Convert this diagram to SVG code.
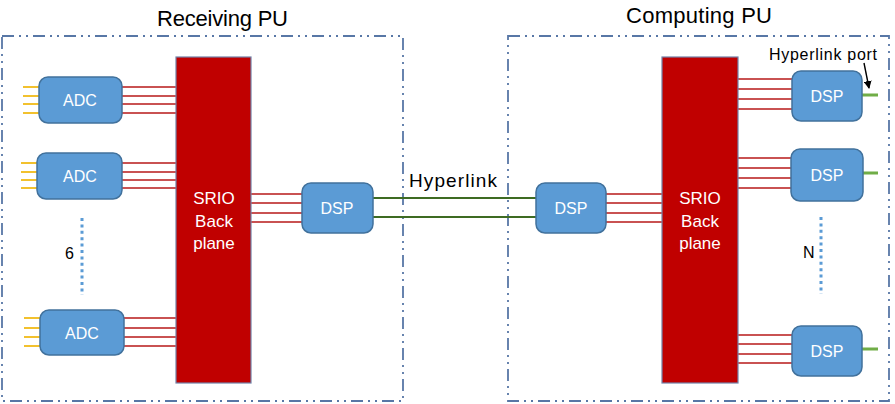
<svg xmlns="http://www.w3.org/2000/svg" width="895" height="404" viewBox="0 0 895 404">
<defs>
<style>
.frame{fill:none;stroke:#5877a6;stroke-width:1.8;stroke-dasharray:12 5 2 5 2 5}
.box{fill:#5b9bd5;stroke:#41719c;stroke-width:1.5}
.bp{fill:#c00000;stroke:#7282a8;stroke-width:1.2}
.red{stroke:#b81a1a;stroke-width:1.6;fill:none}
.yel{stroke:#f2c12e;stroke-width:2;fill:none}
.hl{stroke:#3e6b22;stroke-width:2;fill:none}
.port{stroke:#70ad47;stroke-width:3;fill:none}
.dots{stroke:#5b9bd5;stroke-width:3;stroke-dasharray:3 3.4;fill:none}
.wt{font-family:"Liberation Sans",Arial,sans-serif;font-size:16px;fill:#ffffff;text-anchor:middle}
.st{font-family:"Liberation Sans",Arial,sans-serif;font-size:17px;fill:#ffffff;text-anchor:middle}
.bt{font-family:"Liberation Sans",Arial,sans-serif;fill:#000000}
</style>
<marker id="ah" markerWidth="8" markerHeight="8" refX="7" refY="4" orient="auto" markerUnits="userSpaceOnUse">
<path d="M0,0 L8,4 L0,8 Z" fill="#000"/>
</marker>
</defs>
<rect width="895" height="404" fill="#ffffff"/>

<g id="frames">
<rect class="frame" x="2" y="36" width="401" height="365"/>
<rect class="frame" x="508" y="36" width="381" height="365"/>
<text class="bt" x="157" y="26" font-size="22" textLength="131" lengthAdjust="spacing">Receiving PU</text>
<text class="bt" x="626" y="23" font-size="22" textLength="146" lengthAdjust="spacing">Computing PU</text>
</g>

<g id="connectors">
<path class="yel" d="M23,87H39M23,96H39M23,104H39M23,113H39"/>
<path class="yel" d="M21,163H37M21,172H37M21,180H37M21,188H37"/>
<path class="yel" d="M24,318H40M24,328H40M24,337H40M24,346H40"/>
<path class="red" d="M122,87H176M122,96H176M122,104H176M122,113H176"/>
<path class="red" d="M122,163H176M122,172H176M122,180H176M122,188H176"/>
<path class="red" d="M124,318H176M124,328H176M124,337H176M124,346H176"/>
<path class="red" d="M251,194H302M251,203H302M251,213H302M251,222H302"/>
<path class="hl" d="M373,198H536M373,217H536"/>
<path class="red" d="M606,194H662M606,203H662M606,213H662M606,222H662"/>
<path class="red" d="M738,79H792M738,89H792M738,99H792M738,109H792"/>
<path class="red" d="M738,158H791M738,168H791M738,178H791M738,188H791"/>
<path class="red" d="M738,335H792M738,344H792M738,354H792M738,363H792"/>
<path class="port" d="M862,95H878M863,173H878M862,349H878"/>
<path class="dots" d="M82,218V295"/>
<path class="dots" d="M821,217V294"/>
<path d="M864,63L869,88" stroke="#000" stroke-width="1.4" fill="none" marker-end="url(#ah)"/>
</g>

<g id="adc1"><rect class="box" x="39" y="77" width="83" height="46" rx="9"/><text class="wt" x="80" y="106">ADC</text></g>
<g id="adc2"><rect class="box" x="37" y="153" width="85" height="46" rx="9"/><text class="wt" x="80" y="182">ADC</text></g>
<g id="adc3"><rect class="box" x="40" y="310" width="84" height="45" rx="9"/><text class="wt" x="82" y="339">ADC</text></g>

<g id="backplane-left"><rect class="bp" x="176" y="57" width="75" height="326"/>
<text class="st" x="214" y="204">SRIO</text><text class="st" x="214" y="227">Back</text><text class="st" x="214" y="249">plane</text></g>

<g id="dsp-left"><rect class="box" x="302" y="183" width="71" height="50" rx="9"/><text class="wt" x="337" y="214">DSP</text></g>
<g id="dsp-mid"><rect class="box" x="536" y="183" width="70" height="50" rx="9"/><text class="wt" x="571" y="214">DSP</text></g>

<g id="backplane-right"><rect class="bp" x="662" y="57" width="76" height="326"/>
<text class="st" x="700" y="204">SRIO</text><text class="st" x="700" y="227">Back</text><text class="st" x="700" y="249">plane</text></g>

<g id="dsp1"><rect class="box" x="792" y="71" width="70" height="50" rx="9"/><text class="wt" x="827" y="102">DSP</text></g>
<g id="dsp2"><rect class="box" x="791" y="149" width="72" height="52" rx="9"/><text class="wt" x="827" y="181">DSP</text></g>
<g id="dsp3"><rect class="box" x="792" y="326" width="70" height="50" rx="9"/><text class="wt" x="827" y="357">DSP</text></g>

<g id="labels">
<text class="bt" x="409" y="187" font-size="19" textLength="88" lengthAdjust="spacing">Hyperlink</text>
<text class="bt" x="769" y="60" font-size="16" textLength="108" lengthAdjust="spacing">Hyperlink port</text>
<text class="bt" x="65" y="259" font-size="16">6</text>
<text class="bt" x="803" y="258" font-size="16">N</text>
</g>
</svg>
